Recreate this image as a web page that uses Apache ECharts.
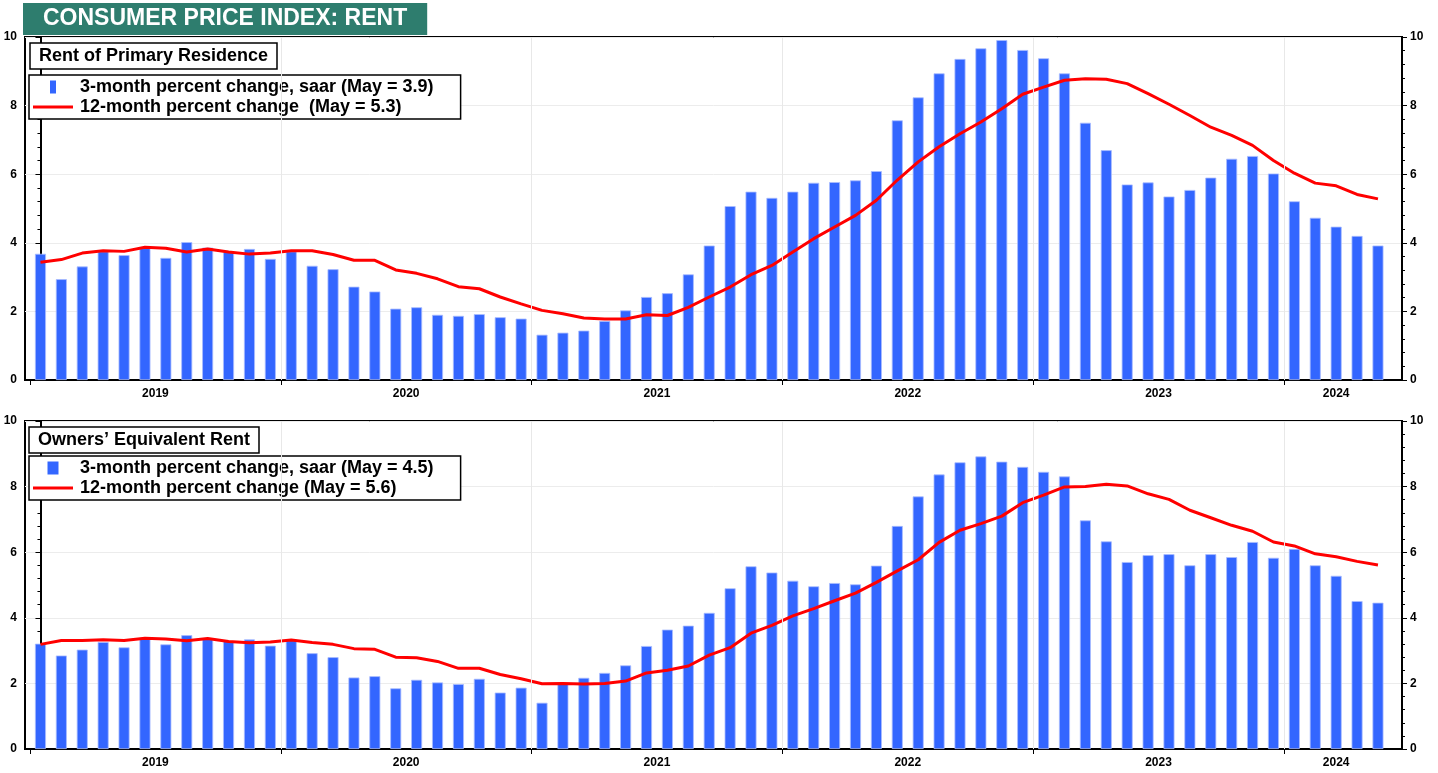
<!DOCTYPE html>
<html>
<head>
<meta charset="utf-8">
<script src="https://cdn.jsdelivr.net/npm/echarts@6/dist/echarts.min.js"></script>
<style>
  html, body { margin: 0; padding: 0; background: #fff; }
  #chart { width: 1438px; height: 773px; }
</style>
</head>
<body>
<div id="chart"></div>
<script>
// month index 0 = Jan 2019, 64 = May 2024
const years = ['2019', '2020', '2021', '2022', '2023', '2024']
const yearLabelPos = [5.5, 17.5, 29.5, 41.5, 53.5, 62]
const yearBounds = [-0.5, 11.5, 23.5, 35.5, 47.5, 59.5]

// Rent of primary residence
const rent3m = [
  3.68, 2.94, 3.31, 3.75, 3.64, 3.85, 3.56, 4.02, 3.86, 3.73, 3.82, 3.53,
  3.75, 3.33, 3.23, 2.72, 2.58, 2.08, 2.12, 1.90, 1.87, 1.92, 1.83, 1.79,
  1.32, 1.38, 1.44, 1.72, 2.03, 2.42, 2.53, 3.08, 3.92, 5.07, 5.49, 5.31,
  5.49, 5.75, 5.77, 5.82, 6.09, 7.57, 8.24, 8.94, 9.36, 9.67, 9.91, 9.62,
  9.38, 8.94, 7.50, 6.70, 5.70, 5.76, 5.35, 5.54, 5.90, 6.45, 6.53, 6.02,
  5.21, 4.73, 4.47, 4.20, 3.92
]
const rent12m = [
  3.43, 3.51, 3.70, 3.77, 3.75, 3.87, 3.84, 3.73, 3.82, 3.73, 3.67, 3.70,
  3.77, 3.77, 3.66, 3.49, 3.49, 3.21, 3.11, 2.95, 2.72, 2.66, 2.42, 2.22,
  2.03, 1.93, 1.81, 1.78, 1.78, 1.90, 1.88, 2.12, 2.42, 2.71, 3.07, 3.34,
  3.73, 4.12, 4.46, 4.80, 5.24, 5.83, 6.36, 6.80, 7.18, 7.52, 7.91, 8.33,
  8.54, 8.74, 8.78, 8.77, 8.64, 8.35, 8.04, 7.71, 7.37, 7.13, 6.84, 6.40,
  6.03, 5.74, 5.66, 5.41, 5.28
]

// Owners' equivalent rent
const oer3m = [
  3.21, 2.85, 3.03, 3.26, 3.10, 3.39, 3.19, 3.47, 3.37, 3.29, 3.34, 3.15,
  3.32, 2.92, 2.80, 2.18, 2.22, 1.85, 2.11, 2.03, 1.98, 2.14, 1.72, 1.87,
  1.41, 1.99, 2.17, 2.32, 2.55, 3.14, 3.64, 3.76, 4.15, 4.90, 5.57, 5.38,
  5.13, 4.96, 5.06, 5.02, 5.59, 6.80, 7.70, 8.37, 8.74, 8.92, 8.76, 8.60,
  8.45, 8.31, 6.97, 6.33, 5.70, 5.91, 5.94, 5.60, 5.94, 5.85, 6.31, 5.83,
  6.10, 5.60, 5.28, 4.51, 4.46
]
const oer12m = [
  3.19, 3.31, 3.31, 3.33, 3.31, 3.38, 3.35, 3.30, 3.37, 3.28, 3.24, 3.26,
  3.32, 3.25, 3.19, 3.06, 3.04, 2.80, 2.78, 2.67, 2.46, 2.46, 2.27, 2.14,
  1.99, 2.00, 1.98, 2.00, 2.07, 2.32, 2.40, 2.53, 2.86, 3.09, 3.53, 3.77,
  4.06, 4.28, 4.52, 4.75, 5.08, 5.43, 5.77, 6.30, 6.67, 6.87, 7.10, 7.51,
  7.74, 7.99, 8.00, 8.07, 8.02, 7.78, 7.61, 7.28, 7.05, 6.82, 6.64, 6.31,
  6.19, 5.95, 5.86, 5.72, 5.61
]

const names = {
  rent3m: '3-month percent change, saar (May = 3.9)',
  rent12m: '12-month percent change  (May = 5.3)',
  oer3m: '3-month percent change, saar (May = 4.5)',
  oer12m: '12-month percent change (May = 5.6)'
}

const FONT = 'Arial, "Liberation Sans", sans-serif'
const BLUE = '#3366ff'
const RED = '#ff0000'

const toPoints = arr => arr.map((v, i) => [i, v])

const chart = echarts.init(document.getElementById('chart'))

function xAxisFor(gridIndex) {
  return {
    type: 'value',
    gridIndex: gridIndex,
    min: -0.74,
    max: 65.15,
    axisLine: { show: true, onZero: false, lineStyle: { color: '#000', width: 2 } },
    axisTick: { show: true, customValues: yearBounds, length: 5, lineStyle: { color: '#000', width: 1 } },
    axisLabel: {
      customValues: yearLabelPos,
      margin: 8,
      color: '#000',
      fontSize: 12,
      fontWeight: 'bold',
      fontFamily: FONT,
      formatter: v => years[yearLabelPos.indexOf(v)]
    },
    splitLine: { show: false }
  }
}

function yAxisFor(gridIndex, position) {
  return {
    type: 'value',
    gridIndex: gridIndex,
    position: position,
    min: 0,
    max: 10,
    interval: 2,
    axisLine: { show: true, lineStyle: { color: '#000', width: 2 } },
    axisTick: { show: true, length: 5, lineStyle: { color: '#000', width: 1 } },
    minorTick: { show: true, splitNumber: 5, length: 3, lineStyle: { color: '#000', width: 1 } },
    axisLabel: { margin: 8, color: '#000', fontSize: 12, fontWeight: 'bold', fontFamily: FONT },
    splitLine: { show: position === 'left', lineStyle: { color: '#ececec', width: 1 } }
  }
}

function yearGridLines() {
  return {
    silent: true,
    symbol: 'none',
    label: { show: false },
    animation: false,
    lineStyle: { color: '#e8e8e8', width: 1, type: 'solid' },
    data: yearBounds.slice(1).map(v => ({ xAxis: v }))
  }
}

function barSeries(name, values, xi, yi) {
  return {
    name: name,
    type: 'bar',
    xAxisIndex: xi,
    yAxisIndex: yi,
    barWidth: 11,
    itemStyle: { color: BLUE, borderColor: '#a9bcff', borderWidth: 0.8 },
    data: toPoints(values),
    markLine: yearGridLines()
  }
}

function lineSeries(name, values, xi, yi) {
  return {
    name: name,
    type: 'line',
    xAxisIndex: xi,
    yAxisIndex: yi,
    symbol: 'none',
    smooth: false,
    itemStyle: { color: RED },
    lineStyle: { color: RED, width: 3 },
    data: toPoints(values),
    z: 3
  }
}

function legendFor(top, barName, lineName, barIcon) {
  return {
    orient: 'vertical',
    left: 29,
    top: top,
    selectedMode: false,
    backgroundColor: '#fff',
    borderColor: '#000',
    borderWidth: 1.5,
    padding: [2, 27, 2, 4],
    itemGap: 0,
    itemWidth: 40,
    itemHeight: 13,
    textStyle: { color: '#000', fontSize: 18, fontWeight: 'bold', fontFamily: FONT, lineHeight: 20, padding: [0, 0, 0, 2] },
    data: [
      { name: barName, icon: barIcon, itemStyle: { borderWidth: 0 } },
      { name: lineName, icon: 'path://M0,0h40v3h-40z' }
    ]
  }
}

function panelTitle(text, left, top) {
  return {
    text: text,
    left: left,
    top: top,
    backgroundColor: '#fff',
    borderColor: '#000',
    borderWidth: 1.5,
    padding: [3, 9, 3, 9],
    textStyle: { color: '#000', fontSize: 18, fontWeight: 'bold', fontFamily: FONT, lineHeight: 20 }
  }
}

chart.setOption({
  animation: false,
  backgroundColor: '#fff',
  title: [
    {
      text: 'CONSUMER PRICE INDEX: RENT',
      left: 23,
      top: 3,
      backgroundColor: '#2e7d6e',
      padding: [4, 20, 4, 20],
      textStyle: { color: '#fff', fontSize: 23, fontWeight: 'bold', fontFamily: FONT, lineHeight: 24 }
    },
    panelTitle('Rent of Primary Residence', 30, 43),
    panelTitle('Owners\u2019 Equivalent Rent', 29, 427)
  ],
  legend: [
    legendFor(75, names.rent3m, names.rent12m, 'path://M0,0h6v13h-6z'),
    legendFor(456, names.oer3m, names.oer12m, 'path://M0,0h11v13h-11z')
  ],
  grid: [
    { left: 25, right: 36, top: 37, height: 343, show: true, borderColor: '#000', borderWidth: 2, backgroundColor: 'transparent' },
    { left: 25, right: 36, top: 421, height: 328, show: true, borderColor: '#000', borderWidth: 2, backgroundColor: 'transparent' }
  ],
  xAxis: [xAxisFor(0), xAxisFor(1)],
  yAxis: [yAxisFor(0, 'left'), yAxisFor(0, 'right'), yAxisFor(1, 'left'), yAxisFor(1, 'right')],
  series: [
    barSeries(names.rent3m, rent3m, 0, 0),
    lineSeries(names.rent12m, rent12m, 0, 0),
    barSeries(names.oer3m, oer3m, 1, 2),
    lineSeries(names.oer12m, oer12m, 1, 2)
  ]
})
</script>
</body>
</html>
